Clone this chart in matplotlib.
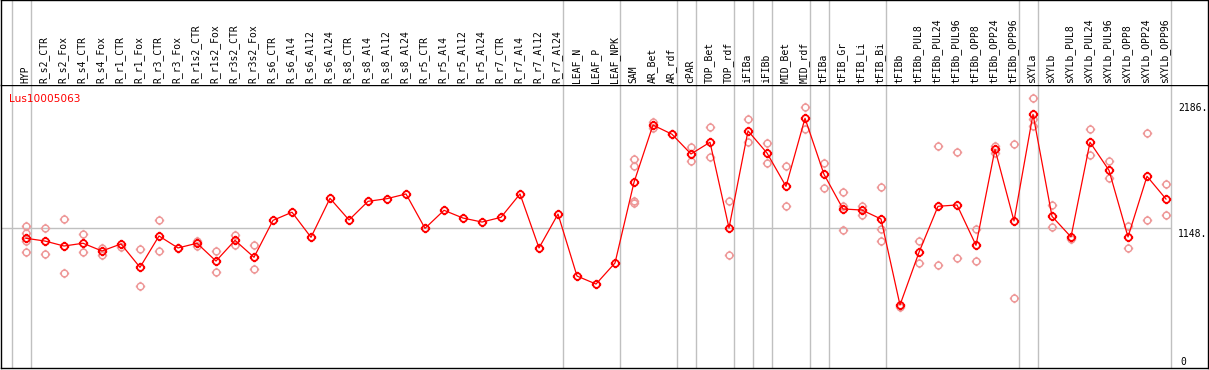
import numpy as np
import matplotlib.pyplot as plt
from matplotlib.path import Path

labels = ["HYP", "R_s2_CTR", "R_s2_Fox", "R_s4_CTR", "R_s4_Fox", "R_r1_CTR", "R_r1_Fox",
          "R_r3_CTR", "R_r3_Fox", "R_r1s2_CTR", "R_r1s2_Fox", "R_r3s2_CTR", "R_r3s2_Fox",
          "R_s6_CTR", "R_s6_Al4", "R_s6_Al12", "R_s6_Al24", "R_s8_CTR", "R_s8_Al4",
          "R_s8_Al12", "R_s8_Al24", "R_r5_CTR", "R_r5_Al4", "R_r5_Al12", "R_r5_Al24",
          "R_r7_CTR", "R_r7_Al4", "R_r7_Al12", "R_r7_Al24", "LEAF_N", "LEAF_P", "LEAF_NPK",
          "SAM", "AR_Bet", "AR_rdf", "cPAR", "TOP_Bet", "TOP_rdf", "iFIBa", "iFIBb",
          "MID_Bet", "MID_rdf", "tFIBa", "tFIB_Gr", "tFIB_Li", "tFIB_Bi", "tFIBb",
          "tFIBb_PUL8", "tFIBb_PUL24", "tFIBb_PUL96", "tFIBb_OPP8", "tFIBb_OPP24",
          "tFIBb_OPP96", "sXYLa", "sXYLb", "sXYLb_PUL8", "sXYLb_PUL24", "sXYLb_PUL96",
          "sXYLb_OPP8", "sXYLb_OPP24", "sXYLb_OPP96"]

means = [1063, 1040, 999, 1022, 958, 1016, 823, 1082, 983, 1022, 875, 1046, 906,
         1211, 1278, 1071, 1393, 1214, 1368, 1390, 1429, 1145, 1294, 1230, 1197,
         1236, 1429, 983, 1263, 751, 685, 859, 1525, 1998, 1922, 1759, 1856, 1148,
         1950, 1767, 1492, 2054, 1591, 1305, 1296, 1222, 512, 947, 1327, 1338, 1005,
         1798, 1206, 2087, 1244, 1074, 1856, 1624, 1074, 1575, 1387]

replicates = [[1164, 1109, 1040, 950], [1145, 933], [1220, 776], [1098, 950], [985, 927],
              [993], [972, 666], [1211, 955], [983], [1043, 999], [958, 782], [1090, 1005],
              [1005, 809], [], [], [], [], [], [], [], [], [], [], [], [], [], [], [], [],
              [], [], [], [1718, 1660, 1373, 1352], [2023, 1971], [1922], [1817, 1704],
              [1979, 1732], [1371, 925], [2048, 1856], [1847, 1682], [1657, 1327],
              [2145, 1965], [1685, 1478], [1443, 1332, 1131], [1332, 1255],
              [1484, 1137, 1038], [493], [1038, 856], [1825, 840], [1773, 898],
              [1137, 873], [1825, 1770], [1842, 567], [2219, 2045, 1993], [1335, 1154],
              [1055], [1963, 1748], [1701, 1558], [1167, 980], [1930, 1214], [1509, 1253]]

group_ends = [-1, 0, 28, 31, 34, 35, 37, 38, 39, 41, 42, 45, 52, 53, 60]
ref_lines = [0, 1148, 2186]

# circle with small ticks, like the original marker
circ = Path.unit_circle()
ticks = Path([[0, 1], [0, 1.4], [0, -1], [0, -1.4], [1, 0], [1.4, 0], [-1, 0], [-1.4, 0]],
             [Path.MOVETO, Path.LINETO] * 4)
mark = Path.make_compound_path(circ, ticks)

W, H = 1209, 370
fig = plt.figure(figsize=(W / 100, H / 100), dpi=100)

x0 = (1 - 26) / 19
x1 = (1208 - 26) / 19
scale = 0.1211

ax = fig.add_axes([1 / W, 2 / H, 1207 / W, 283 / H])
ax.set_xlim(x0, x1)
ax.set_ylim((367 - 368) / scale, (367 - 85) / scale)
ax.set_xticks([])
ax.set_yticks([])
for s in ax.spines.values():
    s.set_linewidth(1.0)

top = fig.add_axes([1 / W, 285 / H, 1207 / W, 85 / H])
top.set_xlim(x0, x1)
top.set_ylim(0, 85)
top.set_xticks([])
top.set_yticks([])
top.spines['bottom'].set_visible(False)
for s in top.spines.values():
    s.set_linewidth(1.0)

xs = np.arange(len(labels))

for g in group_ends:
    ax.axvline(g + 0.25, color='#c0c0c0', lw=1.0, zorder=1)
    top.axvline(g + 0.25, color='#c0c0c0', lw=1.0, zorder=1)

ax.plot([x0, (1170 - 26) / 19], [1148, 1148], color='#c0c0c0', lw=1.0, zorder=1)

for i, reps in enumerate(replicates):
    if reps:
        ax.plot([i] * len(reps), reps, linestyle='none', marker=mark, markersize=6.8,
                markerfacecolor='none', markeredgecolor='#ee9999', markeredgewidth=1.1,
                zorder=2)

ax.plot(xs, means, color='red', lw=0.9, marker=mark, markersize=6.8,
        markerfacecolor='none', markeredgecolor='red', markeredgewidth=1.3, zorder=3)

for i, lab in enumerate(labels):
    top.text(i - 0.05, 2, lab, rotation=90, ha='center', va='bottom',
             family='DejaVu Sans Mono', fontsize=7)

xlab = (1178 - 26) / 19
for v in ref_lines[1:]:
    ax.text(xlab, v - 1 / scale, f"{v}.", ha='left', va='top',
            family='DejaVu Sans Mono', fontsize=7)
ax.text(xlab + 0.1, 16, "0", ha='left', va='baseline', family='DejaVu Sans Mono', fontsize=7)

ax.text((9 - 26) / 19, (367 - 98.5) / scale, "Lus10005063", color='red', ha='left',
        va='center', fontsize=7.6)

plt.savefig('out.png', dpi=100)
